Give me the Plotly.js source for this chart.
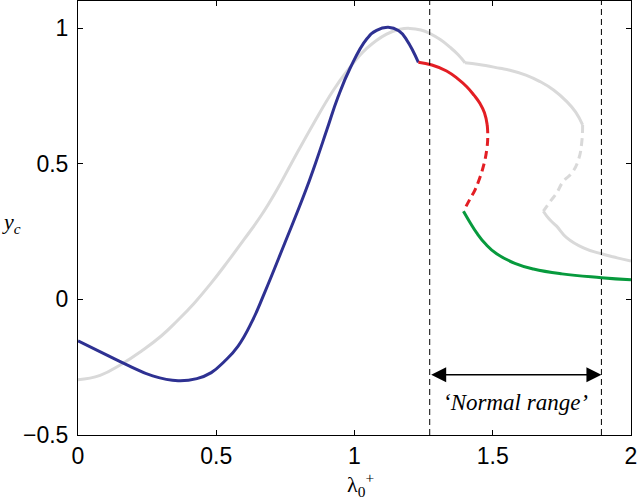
<!DOCTYPE html>
<html>
<head>
<meta charset="utf-8">
<script src="https://cdn.plot.ly/plotly-3.0.1.min.js"></script>
<style>html,body{margin:0;padding:0;background:#fff;}#chart{width:638px;height:499px;}</style>
</head>
<body>
<div id="chart"></div>
<script>
// Grey (reference) curve: upper solid branch, dashed unstable branch, lower solid branch
const greyUpperX = [0, 0.08, 0.157, 0.23, 0.301, 0.36, 0.422, 0.48, 0.542, 0.60, 0.663, 0.72, 0.771, 0.85, 0.923, 0.972, 1.044, 1.116, 1.165, 1.2, 1.24, 1.273, 1.31, 1.345, 1.375, 1.40];
const greyUpperY = [-0.296, -0.280, -0.239, -0.19, -0.135, -0.078, -0.012, 0.058, 0.14, 0.22, 0.31, 0.405, 0.50, 0.645, 0.77, 0.84, 0.925, 0.978, 0.996, 0.999, 0.993, 0.98, 0.958, 0.93, 0.902, 0.872];
const greyKinkX = [1.40, 1.45, 1.526, 1.562, 1.62, 1.671, 1.72, 1.767, 1.80, 1.825];
const greyKinkY = [0.872, 0.866, 0.852, 0.845, 0.827, 0.803, 0.772, 0.73, 0.69, 0.643];
const greyDashX = [1.825, 1.822, 1.81, 1.786, 1.755, 1.731, 1.713, 1.683];
const greyDashY = [0.643, 0.58, 0.515, 0.466, 0.435, 0.392, 0.368, 0.325];
const greyLowerX = [1.683, 1.705, 1.731, 1.767, 1.828, 1.893, 1.95, 2.0];
const greyLowerY = [0.325, 0.295, 0.27, 0.228, 0.19, 0.168, 0.153, 0.141];

// Coloured curve segments
const blueX = [0, 0.09, 0.181, 0.27, 0.362, 0.43, 0.482, 0.53, 0.579, 0.63, 0.675, 0.748, 0.82, 0.86, 0.90, 0.94, 0.984, 1.044, 1.08, 1.122, 1.16, 1.189, 1.231];
const blueY = [-0.153, -0.198, -0.243, -0.282, -0.30, -0.292, -0.27, -0.228, -0.172, -0.08, 0.025, 0.208, 0.392, 0.505, 0.625, 0.745, 0.852, 0.96, 0.992, 1.003, 0.99, 0.956, 0.874];
const redX = [1.231, 1.28, 1.333, 1.375, 1.406, 1.432, 1.454, 1.47, 1.48];
const redY = [0.874, 0.864, 0.842, 0.812, 0.784, 0.753, 0.722, 0.688, 0.643];
const redDashX = [1.48, 1.482, 1.478, 1.466, 1.452, 1.436, 1.415, 1.394];
const redDashY = [0.643, 0.6, 0.55, 0.49, 0.445, 0.404, 0.365, 0.325];
const greenX = [1.394, 1.42, 1.442, 1.475, 1.514, 1.58, 1.647, 1.75, 1.893, 2.0];
const greenY = [0.325, 0.28, 0.245, 0.203, 0.168, 0.133, 0.112, 0.094, 0.080, 0.072];

// Normal range markers
const normalRange = [1.272, 1.893];
const arrowY = -0.278;
const rangeLabel = "‘Normal range’";
const rangeLabelY = -0.382;

const xTicks = [0, 0.5, 1, 1.5, 2];
const yTicks = [-0.5, 0, 0.5, 1];

const GREY = '#d9d9d9', BLUE = '#2e3192', RED = '#e31e24', GREEN = '#079a3d';
function tr(x, y, color, dash) {
  return {x: x, y: y, type: 'scatter', mode: 'lines', hoverinfo: 'skip', showlegend: false,
    line: {color: color, width: 3, dash: dash || 'solid', shape: 'spline', smoothing: 1.3}};
}
const traces = [
  tr(greyUpperX, greyUpperY, GREY),
  tr(greyKinkX, greyKinkY, GREY),
  tr(greyDashX, greyDashY, GREY, '8px,5px'),
  tr(greyLowerX, greyLowerY, GREY),
  tr(blueX, blueY, BLUE),
  tr(redX, redY, RED),
  tr(redDashX, redDashY, RED, '8px,5px'),
  tr(greenX, greenY, GREEN),
];
normalRange.forEach(function (v) {
  traces.push({x: [v, v], y: [-0.5, 1.1], type: 'scatter', mode: 'lines', hoverinfo: 'skip', showlegend: false,
    line: {color: '#000', width: 1, dash: '6px,4px'}});
});

const axisCommon = {
  showgrid: false, zeroline: false, showline: true, linecolor: '#000', linewidth: 1,
  mirror: 'ticks', ticks: 'inside', ticklen: 5, tickcolor: '#000', tickwidth: 1,
  tickfont: {family: 'Liberation Sans, Arial, sans-serif', size: 23, color: '#000'}
};
const layout = {
  width: 638, height: 499,
  margin: {l: 78, r: 7, t: 1, b: 64},
  paper_bgcolor: '#fff', plot_bgcolor: '#fff',
  xaxis: Object.assign({}, axisCommon, {range: [0, 2], tickvals: xTicks, ticktext: xTicks.map(String)}),
  yaxis: Object.assign({}, axisCommon, {range: [-0.5, 1.1], tickvals: yTicks, ticklabelstandoff: 4,
    ticktext: yTicks.map(function (v) { return v < 0 ? '\u2212' + Math.abs(v) : String(v); })}),
  annotations: [
    {x: normalRange[1], y: arrowY, ax: normalRange[0], ay: arrowY, xref: 'x', yref: 'y', axref: 'x', ayref: 'y',
      text: '', showarrow: true, arrowhead: 2, startarrowhead: 2, arrowside: 'end+start', arrowsize: 2, startarrowsize: 2, arrowwidth: 1.5, arrowcolor: '#000'},
    {x: (normalRange[0] + normalRange[1]) / 2, y: rangeLabelY, xref: 'x', yref: 'y', showarrow: false,
      text: '<i>' + rangeLabel + '</i>', font: {family: 'Liberation Serif, Times New Roman, serif', size: 23, color: '#000'}},
    {x: -0.121, y: 0.28, xref: 'paper', yref: 'y', showarrow: false, xanchor: 'center', yanchor: 'middle',
      text: '<i>y<sub>c</sub></i>', font: {family: 'Liberation Serif, Times New Roman, serif', size: 22, color: '#000'}},
    {x: 1.02, y: -0.115, xref: 'x', yref: 'paper', showarrow: false, xanchor: 'center', yanchor: 'middle',
      text: 'λ<sub>0</sub><sup>+</sup>', font: {family: 'Liberation Serif, Times New Roman, serif', size: 22, color: '#000'}}
  ]
};
Plotly.newPlot('chart', traces, layout, {staticPlot: true, displayModeBar: false});
</script>
</body>
</html>
